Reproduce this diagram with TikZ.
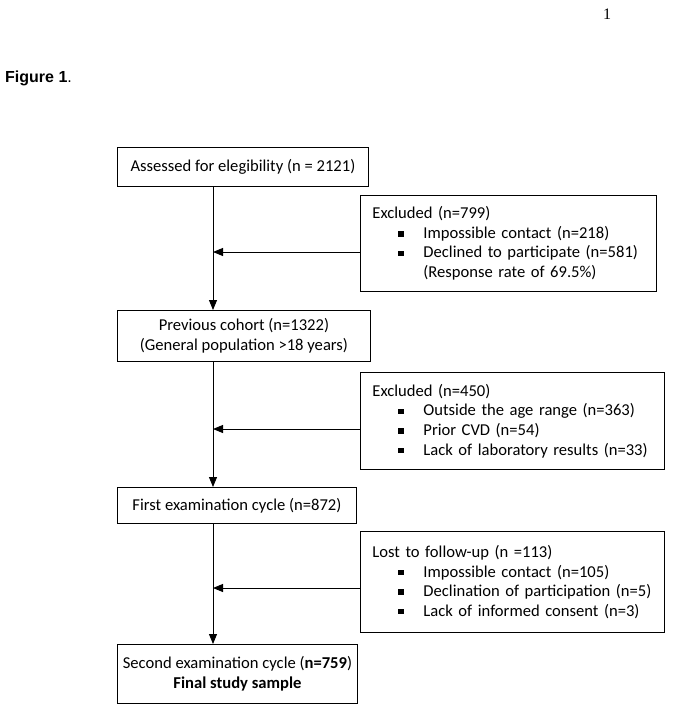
\documentclass[tikz,border=0pt]{standalone}
\usepackage{fontspec}
\setmainfont{Carlito}
\newfontfamily\arialfont{Liberation Sans}
\newfontfamily\timesfont{Liberation Serif}
\usetikzlibrary{arrows.meta}
\newcommand{\bsq}{\rule[1.8pt]{5.5pt}{5.5pt}}
\newcommand{\bitem}[1]{\mbox{\hspace*{26pt}\bsq\hspace*{19.5pt}#1}}
\newcommand{\bcont}[1]{\mbox{\hspace*{51pt}#1}}
\begin{document}
\begin{tikzpicture}[x=1pt,y=-1pt,
  every node/.style={font=\fontsize{16.6}{19.6}\selectfont},
  mainbox/.style={draw, line width=0.9pt, anchor=north west, inner sep=0pt, align=center},
  sidebox/.style={draw, line width=0.9pt, anchor=north west, inner xsep=12pt, inner ysep=0pt, align=left},
  arr/.style={line width=0.9pt, -{Triangle[width=8pt,length=10pt]}},
  ln/.style={line width=0.9pt}]
\useasboundingbox (0,0) rectangle (683,709);
\node[anchor=west, inner sep=0pt, font=\arialfont\fontsize{16}{18}\selectfont] (fig) at (5,78) {\textbf{Figure 1}.};
\node[anchor=west, inner sep=0pt, font=\timesfont\fontsize{16}{18}\selectfont] (pg) at (603,14) {1};

\node[mainbox, minimum width=251pt, minimum height=39pt] (b1) at (117,147) {Assessed for elegibility (n = 2121)};
\node[sidebox, minimum width=296pt, minimum height=96pt, text width=272pt] (e1) at (360,195)
 {\mbox{Excluded (n=799)}\\ \bitem{Impossible contact (n=218)}\\ \bitem{Declined to participate (n=581)}\\ \bcont{(Response rate of 69.5\%)}};
\node[mainbox, minimum width=253pt, minimum height=51pt] (b2) at (117,310) {Previous cohort (n=1322)\\(General population >18 years)};
\node[sidebox, minimum width=304pt, minimum height=97pt, text width=280pt] (e2) at (360,372)
 {\mbox{Excluded (n=450)}\\ \bitem{Outside the age range (n=363)}\\ \bitem{Prior CVD (n=54)}\\ \bitem{Lack of laboratory results (n=33)}};
\node[mainbox, minimum width=239pt, minimum height=36pt] (b3) at (117,487) {First examination cycle (n=872)};
\node[sidebox, minimum width=304pt, minimum height=101pt, text width=280pt] (e3) at (360,531)
 {\mbox{Lost to follow-up (n =113)}\\ \bitem{Impossible contact (n=105)}\\ \bitem{Declination of participation (n=5)}\\ \bitem{Lack of informed consent (n=3)}};
\node[mainbox, minimum width=240pt, minimum height=59pt] (b4) at (117,644) {Second examination cycle (\textbf{n=759})\\\textbf{Final study sample}};

\coordinate (j1) at (213,252);
\coordinate (j2) at (213,429);
\coordinate (j3) at (213,588);

\draw[arr] (b1.south -| j1) -- (b2.north -| j1);
\draw[arr] (b2.south -| j2) -- (b3.north -| j2);
\draw[arr] (b3.south -| j3) -- (b4.north -| j3);
\draw[arr] (e1.west |- j1) -- (j1);
\draw[arr] (e2.west |- j2) -- (j2);
\draw[arr] (e3.west |- j3) -- (j3);
\end{tikzpicture}
\end{document}
